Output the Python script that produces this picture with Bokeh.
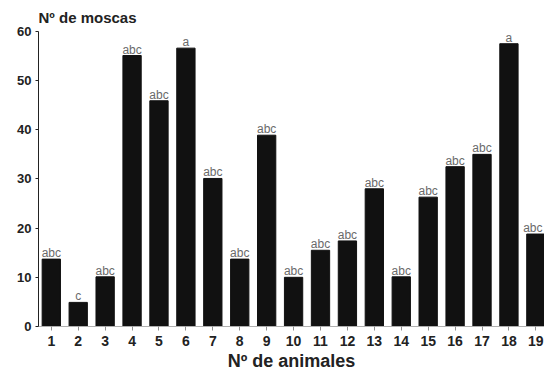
from bokeh.plotting import figure
from bokeh.models import Range1d, FixedTicker, ColumnDataSource
from bokeh.core.properties import value
from bokeh.embed import file_html
from bokeh.resources import INLINE

animales = list(range(1, 20))
moscas = [13.7, 4.9, 10.1, 55.1, 45.9, 56.6, 30.1, 13.7, 38.9, 10.0,
          15.5, 17.4, 28.0, 10.1, 26.3, 32.5, 35.0, 57.5, 18.8]
letras = ["abc", "c", "abc", "abc", "abc", "a", "abc", "abc", "abc", "abc",
          "abc", "abc", "abc", "abc", "abc", "abc", "abc", "a", "abc"]
y_ticks = [0, 10, 20, 30, 40, 50, 60]
y_title = "Nº de moscas"
x_title = "Nº de animales"

FONT = "Liberation Sans"

# small horizontal nudge so the right-most letter label stays inside the frame
nudge = [0] * (len(animales) - 1) + [-3]
src = ColumnDataSource(dict(x=animales, top=moscas, lab=letras, dx=nudge))

p = figure(width=544, height=373,
           x_range=Range1d(0.5245, 19.321), y_range=Range1d(0, 61),
           output_backend="svg", toolbar_location=None,
           min_border_left=38, min_border_right=0,
           min_border_top=26, min_border_bottom=46,
           background_fill_color="white", border_fill_color="white",
           outline_line_color=None)

p.vbar(x="x", top="top", width=0.68, fill_color="#111111",
       line_color="#111111", source=src)

p.text(x="x", y="top", text="lab", x_offset="dx", text_align="center",
       text_baseline="alphabetic", y_offset=-6, source=src,
       text_font=value(FONT), text_font_size="12px", text_color="#6a6a6a")

p.xgrid.visible = False
p.ygrid.visible = False

p.title.text = y_title
p.title.align = "left"
p.title.standoff = 2
p.title.text_font = FONT
p.title.text_font_style = "bold"
p.title.text_font_size = "15px"
p.title.text_color = "#222222"

xa = p.xaxis[0]
xa.ticker = FixedTicker(ticks=animales)
xa.axis_line_color = "#b0b0b0"
xa.major_tick_line_color = "#909090"
xa.major_tick_out = 4
xa.major_tick_in = 0
xa.minor_tick_line_color = None
xa.major_label_standoff = 5
xa.major_label_text_font = FONT
xa.major_label_text_font_style = "bold"
xa.major_label_text_font_size = "14px"
xa.major_label_text_color = "#222222"
xa.axis_label = x_title
xa.axis_label_standoff = 2
xa.axis_label_text_font = FONT
xa.axis_label_text_font_style = "bold"
xa.axis_label_text_font_size = "18px"
xa.axis_label_text_color = "#222222"

ya = p.yaxis[0]
ya.ticker = FixedTicker(ticks=y_ticks)
ya.bounds = (0, 60)
ya.axis_line_color = "#222222"
ya.major_tick_line_color = "#222222"
ya.major_tick_out = 3
ya.major_tick_in = 0
ya.minor_tick_line_color = None
ya.major_label_standoff = 4
ya.major_label_text_font = FONT
ya.major_label_text_font_style = "bold"
ya.major_label_text_font_size = "13px"
ya.major_label_text_color = "#222222"

open("out.html", "w").write(file_html(p, INLINE))
